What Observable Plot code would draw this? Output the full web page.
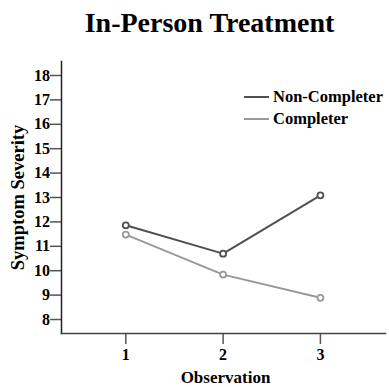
<!DOCTYPE html>
<html><head><meta charset="utf-8">
<script src="https://cdn.jsdelivr.net/npm/d3@7"></script>
<script src="https://cdn.jsdelivr.net/npm/@observablehq/plot@0.6"></script>
<style>
body{margin:0;background:#fff;}
#wrap{position:relative;width:389px;height:387px;}
svg text{font-family:"Liberation Serif","Times New Roman",serif !important;font-weight:bold !important;}
#legend{position:absolute;left:244px;top:86px;font:bold 16.5px "Liberation Serif",serif;color:#000;}
#legend div{display:flex;align-items:center;height:22.3px;}
#legend span.sw{display:inline-block;width:25px;height:0;border-top:2px solid;margin-right:4px;}
</style></head>
<body><div id="wrap"><div id="legend"></div></div>
<script>
const observations = [1, 2, 3];
const nonCompleter = [11.86, 10.70, 13.09];
const completer = [11.48, 9.84, 8.89];
const seriesNames = ["Non-Completer", "Completer"];
const seriesColors = ["#505050", "#999999"];
const yTicks = [8, 9, 10, 11, 12, 13, 14, 15, 16, 17, 18];

const data = [];
[nonCompleter, completer].forEach((vals, s) => {
  vals.forEach((v, i) => data.push({series: seriesNames[s], obs: observations[i], value: v}));
});

const font = `"Liberation Serif","Times New Roman",serif`;
const chart = Plot.plot({
  width: 389, height: 387,
  marginLeft: 61, marginTop: 61, marginRight: 4, marginBottom: 54,
  style: {fontFamily: font, fontWeight: "bold", fontSize: "16px", background: "white"},
  x: {domain: [0.339, 3.669]},
  y: {domain: [7.427, 18.573]},
  color: {domain: seriesNames, range: seriesColors},
  marks: [
    Plot.axisY(yTicks, {tickSize: 11, tickPadding: 0.5, stroke: "#555", strokeWidth: 1.5, fill: "#000", fontSize: 16, label: null}),
    Plot.axisX(observations, {tickSize: 11, tickPadding: 4, stroke: "#555", strokeWidth: 1.5, fill: "#000", fontSize: 16, label: null, tickFormat: d3.format("d")}),
    Plot.frame({anchor: "left", stroke: "#222", strokeWidth: 1.5}),
    Plot.frame({anchor: "bottom", stroke: "#444", strokeWidth: 1.5}),
    Plot.line(data, {x: "obs", y: "value", z: "series", stroke: "series", strokeWidth: 2}),
    Plot.dot(data, {x: "obs", y: "value", stroke: "series", fill: "white", r: 3, strokeWidth: 1.8}),
    Plot.text(["In-Person Treatment"], {frameAnchor: "top", lineAnchor: "top", dy: -49, dx: -14, fontSize: 28, fill: "#000"}),
    Plot.text(["Observation"], {frameAnchor: "bottom", lineAnchor: "bottom", dy: 49, dx: 2, fontSize: 17, fill: "#000", className: "xlab"}),
    Plot.text(["Symptom Severity"], {frameAnchor: "left", textAnchor: "middle", lineAnchor: "middle", dx: -43, rotate: -90, fontSize: 18.5, fill: "#000", className: "ylab"})
  ]
});
const s = d3.select(chart);
s.selectAll('g[aria-label$="tick label"]').style("font-size", "16px");
s.selectAll('g[aria-label$="tick label"] text').style("font-size", "16px");
s.selectAll('.ylab, .ylab text').style("font-size", "18.5px");
s.selectAll('.xlab, .xlab text').style("font-size", "17px");
document.getElementById("wrap").prepend(chart);
const leg = document.getElementById("legend");
seriesNames.forEach((n, i) => {
  const row = document.createElement("div");
  const sw = document.createElement("span");
  sw.className = "sw"; sw.style.borderColor = seriesColors[i];
  row.appendChild(sw);
  row.appendChild(document.createTextNode(n));
  leg.appendChild(row);
});
</script></body></html>
